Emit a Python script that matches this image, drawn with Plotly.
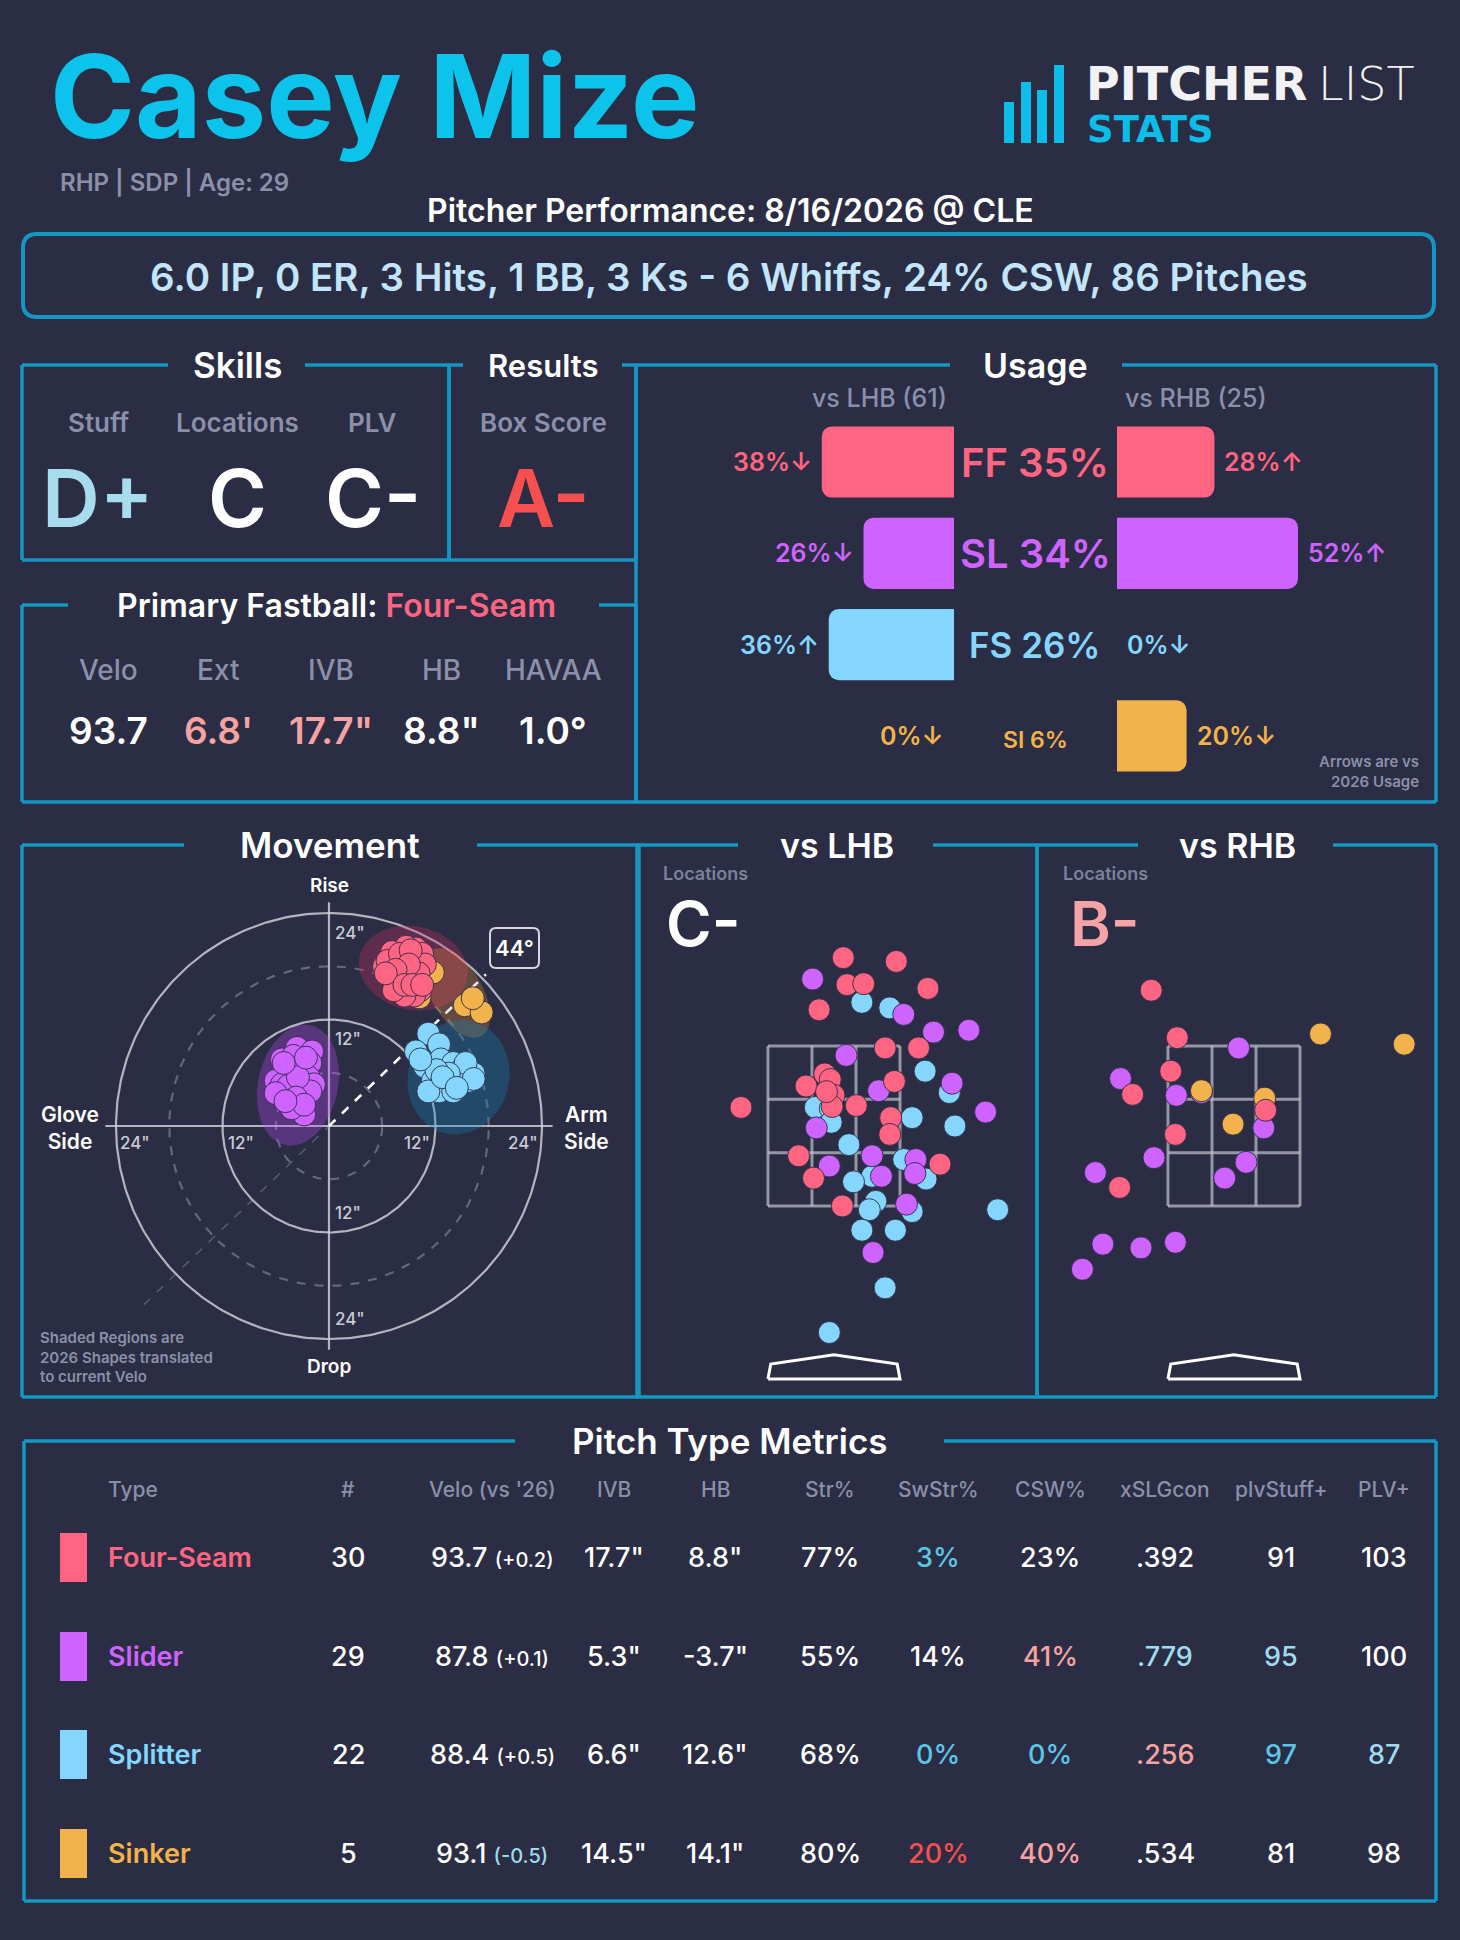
import numpy as np
import plotly.graph_objects as go

W, H = 1460, 1940
BG = "#2a2d43"
FRAME = "#1497c2"
MUTED = "#8b90aa"
WHITE = "#ffffff"
FONT = "Inter"

# ---------------- data ----------------
PITCHER = "Casey Mize"
BIO = "RHP | SDP | Age: 29"
GAME = "Pitcher Performance: 8/16/2026 @ CLE"
LINE_SCORE = "6.0 IP, 0 ER, 3 Hits, 1 BB, 3 Ks - 6 Whiffs, 24% CSW, 86 Pitches"

SKILL_LABELS = ["Stuff", "Locations", "PLV"]
SKILL_GRADES = ["D+", "C", "C-"]
RESULT_LABEL = "Box Score"
RESULT_GRADE = "A-"

FB_NAME = "Four-Seam"
FB_LABELS = ["Velo", "Ext", "IVB", "HB", "HAVAA"]
FB_VALUES = ["93.7", "6.8'", "17.7\"", "8.8\"", "1.0°"]

USAGE_CODES = ["FF", "SL", "FS", "SI"]
USAGE_TOTAL = [35, 34, 26, 6]
USAGE_LHB = [38, 26, 36, 0]
USAGE_LHB_ARROW = ["↓", "↓", "↑", "↓"]
USAGE_RHB = [28, 52, 0, 20]
USAGE_RHB_ARROW = ["↑", "↑", "↓", "↓"]
N_LHB, N_RHB = 61, 25

# movement (HB inches, IVB inches)
MV_FF_HB = [9.8, 8.7, 7.1, 6.2, 7.8, 8.9, 9.8, 10.5, 9.4, 8.2, 7.3, 8.5, 9.8, 7.8, 9.2,
            10.3, 9.6, 8.5, 7.3, 10.8, 6.6, 8.0, 9.2, 10.1, 9.0, 7.5, 6.4, 8.5, 9.4, 10.5]
MV_FF_IVB = [20.0, 20.2, 19.6, 18.0, 18.4, 19.0, 18.6, 19.4, 17.6, 17.2, 16.8, 16.6, 16.6, 15.7, 15.3,
             15.3, 14.7, 14.7, 15.3, 18.2, 18.6, 19.4, 19.8, 17.2, 18.2, 17.6, 17.2, 15.9, 15.9, 15.9]
MV_SL_HB = [-3.6, -1.9, -5.3, -2.1, -4.0, -3.0, -4.9, -6.0, -2.3, -4.2, -3.3, -5.8, -4.9, -3.0, -4.4,
            -2.8, -1.7, -4.0, -5.3, -2.1, -4.6, -3.5, -5.1, -2.6, -6.0, -3.7, -4.2, -2.8, -4.9]
MV_SL_IVB = [8.8, 8.4, 7.5, 7.1, 6.7, 6.3, 6.3, 5.1, 5.5, 5.1, 4.3, 3.9, 3.4, 3.0, 2.2,
             1.3, 4.7, 7.9, 4.7, 3.9, 4.5, 5.5, 7.1, 7.7, 3.7, 3.2, 2.0, 2.4, 2.8]
MV_FS_HB = [11.2, 12.4, 9.8, 10.8, 12.6, 14.0, 14.9, 16.3, 15.8, 11.7, 13.1, 14.4, 12.4, 14.0, 11.2,
            15.4, 13.5, 12.1, 10.3, 16.3, 12.8, 14.4]
MV_FS_IVB = [10.4, 9.2, 8.4, 6.7, 7.5, 7.1, 6.3, 5.9, 5.1, 5.1, 4.7, 5.1, 3.9, 3.9, 3.9,
             7.1, 5.9, 6.3, 7.5, 5.3, 5.5, 4.3]
MV_SI_HB = [11.7, 10.2, 15.3, 17.2, 16.2]
MV_SI_IVB = [17.3, 14.5, 13.6, 12.8, 14.4]
ARM_ANGLE = 44

# 2026 shape regions: centre HB, centre IVB, semi-axes, rotation (deg)
REGION_CODES = ["FF", "SI", "FS", "SL"]
REGION_HB = [9.5, 14.4, 14.6, -3.5]
REGION_IVB = [17.8, 15.0, 5.5, 4.6]
REGION_A = [6.2, 5.6, 6.5, 6.9]
REGION_B = [4.7, 2.9, 5.7, 4.5]
REGION_ANG = [-12, -60, 75, 78]

# locations (plate_x ft, plate_z ft)
LHB_FF_X = [0.10, 0.67, 0.14, 0.32, 1.01, -0.16, 0.55, 0.91, -0.10, -0.04, -0.30, 0.65, 0.00, -0.02,
            0.24, -1.00, 0.61, 0.60, -0.38, 1.14, -0.22, 0.09, -0.08]
LHB_FF_Z = [4.27, 4.23, 3.98, 3.99, 3.94, 3.71, 3.30, 3.30, 3.02, 2.96, 2.89, 2.94, 2.79, 2.67,
            2.68, 2.66, 2.55, 2.37, 2.14, 2.05, 1.90, 1.60, 2.83]
LHB_SL_X = [-0.23, 0.75, 1.07, 1.45, 0.13, 0.48, 1.27, 1.63, -0.19, 0.41, -0.05, 0.88, 0.51, 0.87, 0.78, 0.42]
LHB_SL_Z = [4.04, 3.66, 3.47, 3.49, 3.22, 2.84, 2.92, 2.61, 2.44, 2.14, 2.03, 2.10, 1.92, 1.95, 1.62, 1.10]
LHB_FS_X = [0.30, 0.60, 0.98, 1.24, -0.20, -0.04, -0.03, 0.84, 1.30, 0.16, 0.75, 0.41, 0.21, 0.99,
            0.45, 0.38, 0.84, 1.76, 0.30, 0.66, 0.55, -0.05]
LHB_FS_Z = [3.79, 3.73, 3.05, 2.82, 2.66, 2.65, 2.50, 2.55, 2.46, 2.26, 2.10, 1.92, 1.86, 1.89,
            1.65, 1.56, 1.54, 1.56, 1.34, 1.34, 0.72, 0.24]
RHB_FF_X = [-0.89, -0.61, -0.68, -1.09, 0.34, -0.63, -1.23]
RHB_FF_Z = [3.92, 3.41, 3.05, 2.80, 2.63, 2.37, 1.80]
RHB_SL_X = [0.05, -1.22, -0.62, -0.35, 0.32, -0.86, -1.49, 0.13, -0.10, -1.41, -1.00, -0.63, -1.63]
RHB_SL_Z = [3.30, 2.97, 2.79, 2.82, 2.44, 2.12, 1.96, 2.07, 1.90, 1.19, 1.15, 1.21, 0.92]
RHB_SI_X = [0.93, 1.83, -0.35, 0.33, -0.01]
RHB_SI_Z = [3.45, 3.34, 2.84, 2.76, 2.48]
LOC_GRADE_LHB = "C-"
LOC_GRADE_RHB = "B-"

# pitch type metrics table
TABLE_HEADERS = ["Type", "#", "Velo (vs '26)", "IVB", "HB", "Str%", "SwStr%", "CSW%", "xSLGcon", "plvStuff+", "PLV+"]
TABLE_PITCH = ["Four-Seam", "Slider", "Splitter", "Sinker"]
TABLE_CODE = ["FF", "SL", "FS", "SI"]
TABLE_COUNT = ["30", "29", "22", "5"]
TABLE_VELO = ["93.7", "87.8", "88.4", "93.1"]
TABLE_VELO_DIFF = ["+0.2", "+0.1", "+0.5", "-0.5"]
TABLE_IVB = ["17.7\"", "5.3\"", "6.6\"", "14.5\""]
TABLE_HB = ["8.8\"", "-3.7\"", "12.6\"", "14.1\""]
TABLE_STR = ["77%", "55%", "68%", "80%"]
TABLE_SWSTR = ["3%", "14%", "0%", "20%"]
TABLE_CSW = ["23%", "41%", "0%", "40%"]
TABLE_XSLG = [".392", ".779", ".256", ".534"]
TABLE_STUFF = ["91", "95", "97", "81"]
TABLE_PLV = ["103", "100", "87", "98"]

# ---------------- styles ----------------
PC = {"FF": "#ff6482", "SL": "#cf63ff", "FS": "#84d6ff", "SI": "#f2b24c"}
REGION_FILL = {"FF": "rgba(205,45,95,0.32)", "SI": "rgba(235,140,60,0.30)",
               "FS": "rgba(20,135,185,0.32)", "SL": "rgba(190,70,250,0.32)"}
GOOD_BLUE = "#5cc6e6"
LIGHT_BLUE = "#9fdbef"
PINK = "#f5a2a2"
RED = "#f5504f"
SKILL_COLORS = ["#a6dcee", WHITE, WHITE]
FB_COLORS = [WHITE, PINK, PINK, WHITE, WHITE]
CELL_COLORS = {
    "SWSTR": [GOOD_BLUE, WHITE, GOOD_BLUE, RED],
    "CSW": [WHITE, PINK, GOOD_BLUE, PINK],
    "XSLG": [WHITE, LIGHT_BLUE, PINK, WHITE],
    "STUFF": [WHITE, LIGHT_BLUE, GOOD_BLUE, WHITE],
    "PLV": [WHITE, WHITE, LIGHT_BLUE, WHITE],
    "VDIFF": [WHITE, WHITE, WHITE, LIGHT_BLUE],
}


def px(x):
    return x / W


def py(y):
    return 1 - y / H


fig = go.Figure()
shapes = []
annotations = []


def text(t, x, y, size, color=WHITE, weight=600, xanchor="center", yanchor="middle",
         family=FONT, xref="paper", yref="paper", **kw):
    annotations.append(dict(
        text=t, x=px(x) if xref == "paper" else x, y=py(y) if yref == "paper" else y,
        xref=xref, yref=yref, showarrow=False, xanchor=xanchor, yanchor=yanchor,
        font=dict(family=family, size=size, color=color, weight=weight), **kw))


def seg(x0, y0, x1, y1, color=FRAME, width=3.5):
    shapes.append(dict(type="line", xref="paper", yref="paper", x0=px(x0), y0=py(y0),
                       x1=px(x1), y1=py(y1), line=dict(color=color, width=width)))


def frame(x0, y0, x1, y1, g0, g1):
    seg(x0, y0, g0, y0)
    seg(g1, y0, x1, y0)
    seg(x0, y0, x0, y1)
    seg(x1, y0, x1, y1)
    seg(x0, y1, x1, y1)


def rounded(x0, y0, x1, y1, r, color, width, fill="rgba(0,0,0,0)"):
    X = lambda v: f"{px(v):.5f}"
    Y = lambda v: f"{py(v):.5f}"
    path = (f"M {X(x0 + r)} {Y(y0)} L {X(x1 - r)} {Y(y0)} Q {X(x1)} {Y(y0)} {X(x1)} {Y(y0 + r)} "
            f"L {X(x1)} {Y(y1 - r)} Q {X(x1)} {Y(y1)} {X(x1 - r)} {Y(y1)} "
            f"L {X(x0 + r)} {Y(y1)} Q {X(x0)} {Y(y1)} {X(x0)} {Y(y1 - r)} "
            f"L {X(x0)} {Y(y0 + r)} Q {X(x0)} {Y(y0)} {X(x0 + r)} {Y(y0)} Z")
    shapes.append(dict(type="path", xref="paper", yref="paper", path=path,
                       line=dict(color=color, width=width), fillcolor=fill))


# ---------------- header ----------------
text(PITCHER, 48, 96, 115, color="#0cc3ec", weight=700, xanchor="left")
for bx, top in zip([1004, 1021, 1037, 1054], [102, 82, 90, 65]):
    shapes.append(dict(type="rect", xref="paper", yref="paper", x0=px(bx), x1=px(bx + 10),
                       y0=py(143), y1=py(top), fillcolor="#0bbde8", line=dict(width=0)))
text("PITCHER", 1084, 84, 46, color="#f2f2f4", weight=700, xanchor="left", family="DejaVu Sans")
text("LIST", 1316, 84, 46, color="#f2f2f4", weight=200, xanchor="left", family="DejaVu Sans")
text("STATS", 1085, 130, 37, color="#0bbde8", weight=700, xanchor="left", family="DejaVu Sans")

text(BIO, 58, 182, 24, color=MUTED, weight=600, xanchor="left")
text(GAME, 730, 210, 32, color=WHITE, weight=600)
rounded(23, 234, 1434, 317, 14, FRAME, 4)
text(LINE_SCORE, 729, 277, 38.5, color="#c2e5fb", weight=600)

# ---------------- skills / results ----------------
frame(22, 365, 449, 560, 168, 305)
frame(449, 365, 636, 560, 463, 622)
text("Skills", 237, 365, 35, weight=600)
text("Results", 543, 365, 31, weight=600)
for lab, grade, col, x in zip(SKILL_LABELS, SKILL_GRADES, SKILL_COLORS, [98, 237, 373]):
    text(lab, x, 422, 26, color=MUTED, weight=600)
    text(grade, x, 498, 80, color=col, weight=600)
text(RESULT_LABEL, 543, 422, 26, color=MUTED, weight=600)
text(RESULT_GRADE, 543, 498, 80, color=RED, weight=600)

# ---------------- primary fastball ----------------
frame(22, 605, 636, 802, 68, 599)
text(f"Primary Fastball: <span style='color:{PC['FF']}'>{FB_NAME}</span>", 336, 605, 32, weight=600)
for lab, val, col, x in zip(FB_LABELS, FB_VALUES, FB_COLORS, [108, 218, 331, 441, 553]):
    text(lab, x, 670, 28, color=MUTED, weight=500)
    text(val, x, 730, 37, color=col, weight=600)

# ---------------- usage ----------------
frame(636, 365, 1436, 802, 950, 1122)
text("Usage", 1035, 365, 34, weight=600)
text(f"vs LHB ({N_LHB})", 879, 398, 25, color=MUTED, weight=500)
text(f"vs RHB ({N_RHB})", 1196, 398, 25, color=MUTED, weight=500)
rows = list(range(len(USAGE_CODES)))
cols = [PC[c] for c in USAGE_CODES]
fig.add_trace(go.Bar(orientation="h", x=USAGE_LHB, y=rows, width=0.78, marker=dict(color=cols, line=dict(width=0)),
                     xaxis="x4", yaxis="y4", hoverinfo="skip", showlegend=False))
fig.add_trace(go.Bar(orientation="h", x=USAGE_RHB, y=rows, width=0.78, marker=dict(color=cols, line=dict(width=0)),
                     xaxis="x5", yaxis="y4", hoverinfo="skip", showlegend=False))
center_sizes = [40, 40, 35, 23]
for i, code in enumerate(USAGE_CODES):
    c = PC[code]
    annotations.append(dict(text=f"{USAGE_LHB[i]}%{USAGE_LHB_ARROW[i]}", x=USAGE_LHB[i], y=i, xref="x4", yref="y4",
                            xanchor="right", yanchor="middle", xshift=-8, showarrow=False,
                            font=dict(family=FONT, size=25, color=c, weight=600)))
    annotations.append(dict(text=f"{USAGE_RHB[i]}%{USAGE_RHB_ARROW[i]}", x=USAGE_RHB[i], y=i, xref="x5", yref="y4",
                            xanchor="left", yanchor="middle", xshift=8, showarrow=False,
                            font=dict(family=FONT, size=25, color=c, weight=600)))
    annotations.append(dict(text=f"{code} {USAGE_TOTAL[i]}%", x=px(1035), y=i, xref="paper", yref="y4",
                            xanchor="center", yanchor="middle", showarrow=False, yshift=-4 if i == 3 else 0,
                            font=dict(family=FONT, size=center_sizes[i], color=c, weight=600)))
text("Arrows are vs<br>2026 Usage", 1421, 772, 15, color=MUTED, weight=600, xanchor="right", align="right")

# ---------------- movement ----------------
frame(22, 845, 639, 1397, 184, 477)
text("Movement", 330, 845, 35, weight=600)
theta = np.linspace(0, 2 * np.pi, 361)
for r, dash, col in [(6, "dash", "rgba(150,152,170,0.55)"), (12, "solid", "rgba(205,205,215,0.85)"),
                     (18, "dash", "rgba(150,152,170,0.55)"), (24, "solid", "rgba(205,205,215,0.85)")]:
    fig.add_trace(go.Scatter(x=r * np.cos(theta), y=r * np.sin(theta), mode="lines",
                             line=dict(color=col, width=2.2, dash=dash), xaxis="x", yaxis="y",
                             hoverinfo="skip", showlegend=False))
for xs, ys in [([-25.2, 25.2], [0, 0]), ([0, 0], [-25.2, 25.2])]:
    fig.add_trace(go.Scatter(x=xs, y=ys, mode="lines", line=dict(color="rgba(205,205,215,0.85)", width=2.2),
                             xaxis="x", yaxis="y", hoverinfo="skip", showlegend=False))
arm = np.deg2rad(ARM_ANGLE)
fig.add_trace(go.Scatter(x=[-29 * np.cos(arm), 0], y=[-29 * np.sin(arm), 0], mode="lines",
                         line=dict(color="rgba(150,152,170,0.45)", width=1.5, dash="dash"),
                         xaxis="x", yaxis="y", hoverinfo="skip", showlegend=False))
t = np.linspace(0, 2 * np.pi, 200)
for code, cx, cy, a, b, ang in zip(REGION_CODES, REGION_HB, REGION_IVB, REGION_A, REGION_B, REGION_ANG):
    th = np.deg2rad(ang)
    ex = cx + a * np.cos(t) * np.cos(th) - b * np.sin(t) * np.sin(th)
    ey = cy + a * np.cos(t) * np.sin(th) + b * np.sin(t) * np.cos(th)
    fig.add_trace(go.Scatter(x=ex, y=ey, mode="lines", fill="toself", fillcolor=REGION_FILL[code],
                             line=dict(width=0), xaxis="x", yaxis="y", hoverinfo="skip", showlegend=False))
fig.add_trace(go.Scatter(x=[0, 24.6 * np.cos(arm)], y=[0, 24.6 * np.sin(arm)], mode="lines",
                         line=dict(color="white", width=2.5, dash="dash"),
                         xaxis="x", yaxis="y", hoverinfo="skip", showlegend=False))
MK = dict(size=23, line=dict(color="rgba(45,45,70,0.9)", width=1))
for code, hb, ivb in [("SI", MV_SI_HB, MV_SI_IVB), ("FF", MV_FF_HB, MV_FF_IVB),
                      ("SL", MV_SL_HB, MV_SL_IVB), ("FS", MV_FS_HB, MV_FS_IVB)]:
    fig.add_trace(go.Scatter(x=hb, y=ivb, mode="markers", marker=dict(color=PC[code], **MK),
                             xaxis="x", yaxis="y", hoverinfo="skip", showlegend=False))
TICK = "#c9cad4"
for r in (12, 24):
    lab = f"{r}\""
    annotations.append(dict(text=lab, x=0, y=r - 2.2, xref="x", yref="y", xanchor="left", yanchor="middle",
                            xshift=4, showarrow=False, font=dict(family=FONT, size=17, color=TICK, weight=500)))
    annotations.append(dict(text=lab, x=0, y=-r + 2.2, xref="x", yref="y", xanchor="left", yanchor="middle",
                            xshift=4, showarrow=False, font=dict(family=FONT, size=17, color=TICK, weight=500)))
    annotations.append(dict(text=lab, x=-r + 2.1, y=-1.9, xref="x", yref="y", xanchor="center", yanchor="middle",
                            showarrow=False, font=dict(family=FONT, size=17, color=TICK, weight=500)))
    annotations.append(dict(text=lab, x=r - 2.1, y=-1.9, xref="x", yref="y", xanchor="center", yanchor="middle",
                            showarrow=False, font=dict(family=FONT, size=17, color=TICK, weight=500)))
text("Rise", 329, 886, 19, weight=600)
text("Drop", 329, 1366, 19, weight=600)
text("Glove<br>Side", 70, 1128, 21, weight=600)
text("Arm<br>Side", 586, 1128, 21, weight=600)
rounded(490, 928, 539, 968, 6, "#d6d6de", 2)
text(f"{ARM_ANGLE}°", 514, 948, 22, weight=600)
text("Shaded Regions are<br>2026 Shapes translated<br>to current Velo", 38, 1357, 15, color=MUTED,
     weight=600, xanchor="left", align="left")

# ---------------- locations ----------------
frame(637, 845, 1037, 1397, 738, 933)
frame(1037, 845, 1436, 1397, 1138, 1333)
text("vs LHB", 837, 845, 34, weight=600)
text("vs RHB", 1237, 845, 34, weight=600)
text("Locations", 661, 874, 18, color="#7b809c", weight=600, xanchor="left")
text(LOC_GRADE_LHB, 664, 923, 62, color=WHITE, weight=600, xanchor="left")
text("Locations", 1061, 874, 18, color="#7b809c", weight=600, xanchor="left")
text(LOC_GRADE_RHB, 1068, 923, 62, color="#f5a3a6", weight=600, xanchor="left")

ZX, ZB, ZT = 0.71, 1.6, 3.32
PLATE_X = [-0.71, -0.68, 0.0, 0.68, 0.71, -0.71]
PLATE_Z = [-0.26, -0.10, 0.0, -0.10, -0.26, -0.26]
for xa, ya in [("x2", "y2"), ("x3", "y3")]:
    for k in range(4):
        xv = -ZX + k * 2 * ZX / 3
        zv = ZB + k * (ZT - ZB) / 3
        shapes.append(dict(type="line", xref=xa, yref=ya, x0=xv, x1=xv, y0=ZB, y1=ZT,
                           line=dict(color="rgba(185,186,198,0.75)", width=3), layer="below"))
        shapes.append(dict(type="line", xref=xa, yref=ya, x0=-ZX, x1=ZX, y0=zv, y1=zv,
                           line=dict(color="rgba(185,186,198,0.75)", width=3), layer="below"))
    fig.add_trace(go.Scatter(x=PLATE_X, y=PLATE_Z, mode="lines", line=dict(color="white", width=3),
                             xaxis=xa, yaxis=ya, hoverinfo="skip", showlegend=False))
MK2 = dict(size=22, line=dict(color="rgba(45,45,70,0.9)", width=1))
for code, xs, zs in [("FS", LHB_FS_X, LHB_FS_Z), ("SL", LHB_SL_X, LHB_SL_Z), ("FF", LHB_FF_X, LHB_FF_Z)]:
    fig.add_trace(go.Scatter(x=xs, y=zs, mode="markers", marker=dict(color=PC[code], **MK2),
                             xaxis="x2", yaxis="y2", hoverinfo="skip", showlegend=False))
for code, xs, zs in [("SL", RHB_SL_X, RHB_SL_Z), ("SI", RHB_SI_X, RHB_SI_Z), ("FF", RHB_FF_X, RHB_FF_Z)]:
    fig.add_trace(go.Scatter(x=xs, y=zs, mode="markers", marker=dict(color=PC[code], **MK2),
                             xaxis="x3", yaxis="y3", hoverinfo="skip", showlegend=False))

# ---------------- pitch type metrics ----------------
frame(24, 1441, 1436, 1901, 515, 944)
text("Pitch Type Metrics", 730, 1441, 35, weight=600)
COL_X = [106, 348, 492, 614, 715, 830, 938, 1050, 1165, 1281, 1384]
for j, h in enumerate(TABLE_HEADERS):
    text(h, COL_X[j], 1489, 21, color=MUTED, weight=500, xanchor="left" if j == 0 else "center")
ROW_Y = [1557, 1656, 1754, 1853]
for i in range(len(TABLE_PITCH)):
    y = ROW_Y[i]
    c = PC[TABLE_CODE[i]]
    shapes.append(dict(type="rect", xref="paper", yref="paper", x0=px(60), x1=px(87), y0=py(y + 25), y1=py(y - 24),
                       fillcolor=c, line=dict(width=0)))
    text(TABLE_PITCH[i], 106, y, 27, color=c, weight=600, xanchor="left")
    text(TABLE_COUNT[i], COL_X[1], y, 27, weight=500)
    text(f"{TABLE_VELO[i]} <span style='font-size:20px;color:{CELL_COLORS['VDIFF'][i]}'>({TABLE_VELO_DIFF[i]})</span>",
         COL_X[2], y, 27, weight=500)
    text(TABLE_IVB[i], COL_X[3], y, 27, weight=500)
    text(TABLE_HB[i], COL_X[4], y, 27, weight=500)
    text(TABLE_STR[i], COL_X[5], y, 27, weight=500)
    text(TABLE_SWSTR[i], COL_X[6], y, 27, color=CELL_COLORS["SWSTR"][i], weight=500)
    text(TABLE_CSW[i], COL_X[7], y, 27, color=CELL_COLORS["CSW"][i], weight=500)
    text(TABLE_XSLG[i], COL_X[8], y, 27, color=CELL_COLORS["XSLG"][i], weight=500)
    text(TABLE_STUFF[i], COL_X[9], y, 27, color=CELL_COLORS["STUFF"][i], weight=500)
    text(TABLE_PLV[i], COL_X[10], y, 27, color=CELL_COLORS["PLV"][i], weight=500)

# ---------------- layout ----------------
hidden = dict(visible=False, showgrid=False, zeroline=False, fixedrange=True)
fig.update_layout(
    width=W, height=H, paper_bgcolor=BG, plot_bgcolor="rgba(0,0,0,0)",
    margin=dict(l=0, r=0, t=0, b=0), showlegend=False, barcornerradius=10,
    xaxis=dict(domain=[px(60), px(600)], range=[-30.31, 30.54], anchor="y", **hidden),
    yaxis=dict(domain=[py(1380), py(880)], range=[-28.62, 27.72], anchor="x", **hidden),
    xaxis2=dict(domain=[px(637), px(1037)], range=[-2.118, 2.183], anchor="y2", **hidden),
    yaxis2=dict(domain=[py(1395), py(850)], range=[-0.432, 5.428], anchor="x2", **hidden),
    xaxis3=dict(domain=[px(1037), px(1436)], range=[-2.118, 2.172], anchor="y3", **hidden),
    yaxis3=dict(domain=[py(1395), py(850)], range=[-0.432, 5.428], anchor="x3", **hidden),
    xaxis4=dict(domain=[px(640), px(954)], range=[(954 - 640) / 3.48, 0], anchor="y4", **hidden),
    xaxis5=dict(domain=[px(1117), px(1430)], range=[0, (1430 - 1117) / 3.48], anchor="y4", **hidden),
    yaxis4=dict(domain=[py(790), py(410)], range=[3.5925, -0.5695], anchor="x4", **hidden),
    shapes=shapes, annotations=annotations,
)
fig.write_html("out.html", config={"displayModeBar": False},
               post_script="document.body.style.margin='0';document.body.style.background='#2a2d43';")
